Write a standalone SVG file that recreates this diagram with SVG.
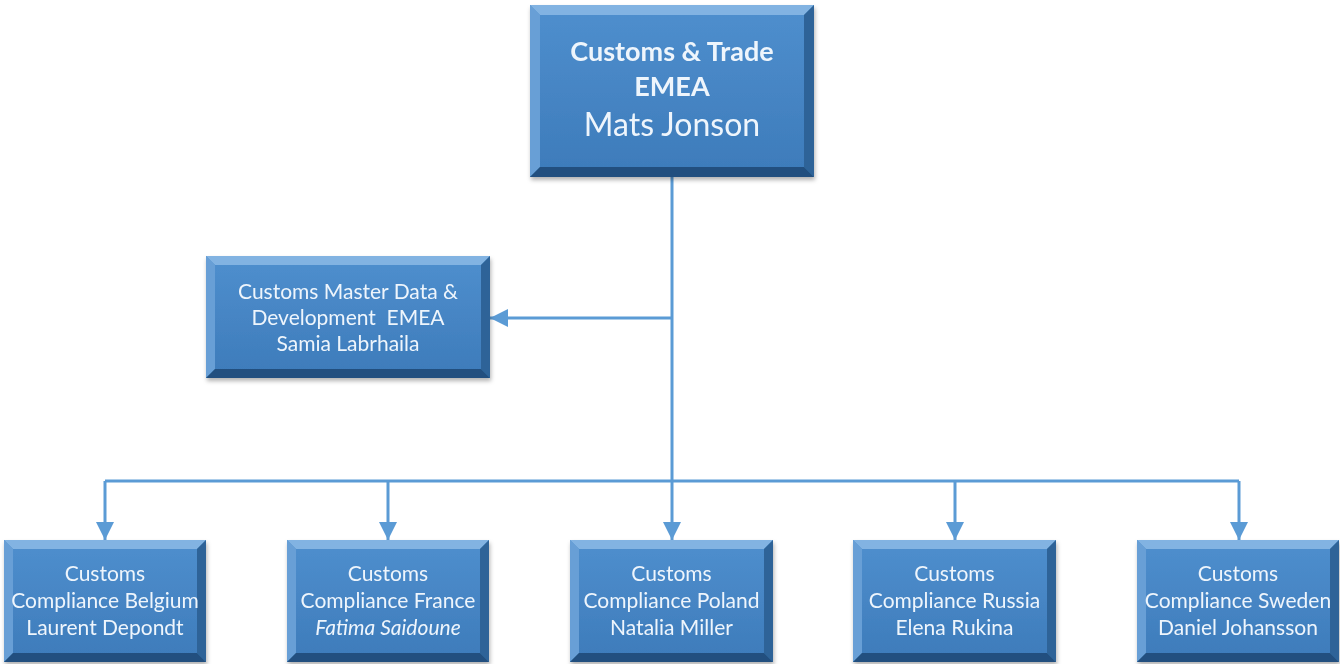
<svg xmlns="http://www.w3.org/2000/svg" width="1340" height="664" viewBox="0 0 1340 664">
<defs>
<style>
.face{fill:url(#g)}
.t{fill:#82b3e2}
.l{fill:#679fd6}
.r{fill:#2d6498}
.b{fill:#22507f}
.txt{font-family:Lato,"Open Sans",sans-serif;fill:#eef5fc;text-anchor:middle;font-size:21px;white-space:pre}
.conn{stroke:#5b9bd5;stroke-width:3;fill:none}
</style>
<linearGradient id="g" x1="0" y1="0" x2="0" y2="1">
<stop offset="0" stop-color="#4f8fce"/>
<stop offset="1" stop-color="#3d7bba"/>
</linearGradient>
<filter id="sh" x="-10%" y="-10%" width="120%" height="130%">
<feDropShadow dx="1" dy="3" stdDeviation="2" flood-color="#000" flood-opacity="0.3"/>
</filter>
<marker id="ah" markerUnits="userSpaceOnUse" markerWidth="18" markerHeight="18" viewBox="0 0 18 18" refX="18" refY="9" orient="auto">
<path d="M0,0 L18,9 L0,18 Z" fill="#5b9bd5"/>
</marker>
</defs>
<rect width="1340" height="664" fill="#fff"/>
<g id="connectors">
<path class="conn" d="M672,177 V481"/>
<path class="conn" d="M672,318 H490" marker-end="url(#ah)"/>
<path class="conn" d="M105,481 H1239"/>
<path class="conn" d="M105,481 V540" marker-end="url(#ah)"/>
<path class="conn" d="M388,481 V540" marker-end="url(#ah)"/>
<path class="conn" d="M672,481 V540" marker-end="url(#ah)"/>
<path class="conn" d="M955,481 V540" marker-end="url(#ah)"/>
<path class="conn" d="M1239,481 V540" marker-end="url(#ah)"/>
</g>
<g id="top" filter="url(#sh)">
<rect class="face" x="530" y="5" width="284" height="172"/>
<polygon class="t" points="530,5 814,5 804,15 540,15"/>
<polygon class="l" points="530,5 540,15 540,167 530,177"/>
<polygon class="r" points="814,5 814,177 804,167 804,15"/>
<polygon class="b" points="530,177 814,177 804,167 540,167"/>
<text class="txt" x="672" y="61" style="font-size:27px;font-weight:bold">Customs &amp; Trade</text>
<text class="txt" x="672" y="96" style="font-size:27px;font-weight:bold">EMEA</text>
<text class="txt" x="672" y="136" style="font-size:32px">Mats Jonson</text>
</g>
<g id="masterdata" filter="url(#sh)">
<rect class="face" x="206" y="256" width="284" height="122"/>
<polygon class="t" points="206,256 490,256 481,265 215,265"/>
<polygon class="l" points="206,256 215,265 215,369 206,378"/>
<polygon class="r" points="490,256 490,378 481,369 481,265"/>
<polygon class="b" points="206,378 490,378 481,369 215,369"/>
<text class="txt" x="348" y="299">Customs Master Data &amp;</text>
<text class="txt" x="348" y="325">Development  EMEA</text>
<text class="txt" x="348" y="351">Samia Labrhaila</text>
</g>
<g id="belgium" filter="url(#sh)">
<rect class="face" x="4" y="540" width="202" height="122"/>
<polygon class="t" points="4,540 206,540 197,549 13,549"/>
<polygon class="l" points="4,540 13,549 13,653 4,662"/>
<polygon class="r" points="206,540 206,662 197,653 197,549"/>
<polygon class="b" points="4,662 206,662 197,653 13,653"/>
<text class="txt" x="105" y="581">Customs</text>
<text class="txt" x="105" y="608">Compliance Belgium</text>
<text class="txt" x="105" y="635">Laurent Depondt</text>
</g>
<g id="france" filter="url(#sh)">
<rect class="face" x="287" y="540" width="202" height="122"/>
<polygon class="t" points="287,540 489,540 480,549 296,549"/>
<polygon class="l" points="287,540 296,549 296,653 287,662"/>
<polygon class="r" points="489,540 489,662 480,653 480,549"/>
<polygon class="b" points="287,662 489,662 480,653 296,653"/>
<text class="txt" x="388" y="581">Customs</text>
<text class="txt" x="388" y="608">Compliance France</text>
<text class="txt" x="388" y="635" font-style="italic">Fatima Saidoune</text>
</g>
<g id="poland" filter="url(#sh)">
<rect class="face" x="570" y="540" width="203" height="122"/>
<polygon class="t" points="570,540 773,540 764,549 579,549"/>
<polygon class="l" points="570,540 579,549 579,653 570,662"/>
<polygon class="r" points="773,540 773,662 764,653 764,549"/>
<polygon class="b" points="570,662 773,662 764,653 579,653"/>
<text class="txt" x="671.5" y="581">Customs</text>
<text class="txt" x="671.5" y="608">Compliance Poland</text>
<text class="txt" x="671.5" y="635">Natalia Miller</text>
</g>
<g id="russia" filter="url(#sh)">
<rect class="face" x="853" y="540" width="203" height="122"/>
<polygon class="t" points="853,540 1056,540 1047,549 862,549"/>
<polygon class="l" points="853,540 862,549 862,653 853,662"/>
<polygon class="r" points="1056,540 1056,662 1047,653 1047,549"/>
<polygon class="b" points="853,662 1056,662 1047,653 862,653"/>
<text class="txt" x="954.5" y="581">Customs</text>
<text class="txt" x="954.5" y="608">Compliance Russia</text>
<text class="txt" x="954.5" y="635">Elena Rukina</text>
</g>
<g id="sweden" filter="url(#sh)">
<rect class="face" x="1137" y="540" width="202" height="122"/>
<polygon class="t" points="1137,540 1339,540 1330,549 1146,549"/>
<polygon class="l" points="1137,540 1146,549 1146,653 1137,662"/>
<polygon class="r" points="1339,540 1339,662 1330,653 1330,549"/>
<polygon class="b" points="1137,662 1339,662 1330,653 1146,653"/>
<text class="txt" x="1238" y="581">Customs</text>
<text class="txt" x="1238" y="608">Compliance Sweden</text>
<text class="txt" x="1238" y="635">Daniel Johansson</text>
</g>
</svg>
